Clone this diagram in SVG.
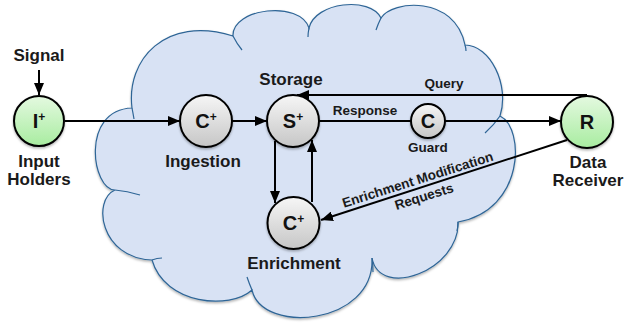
<svg xmlns="http://www.w3.org/2000/svg" width="624" height="326" viewBox="0 0 624 326">
  <defs>
    <linearGradient id="gGray" x1="0" y1="0" x2="0" y2="1">
      <stop offset="0" stop-color="#f6f6f6"/>
      <stop offset="1" stop-color="#c6c6c6"/>
    </linearGradient>
    <linearGradient id="gGreen" x1="0" y1="0" x2="0" y2="1">
      <stop offset="0" stop-color="#e4f9e0"/>
      <stop offset="1" stop-color="#a8eca0"/>
    </linearGradient>
    <filter id="shadow" x="-10%" y="-10%" width="120%" height="125%">
      <feDropShadow dx="0" dy="1.5" stdDeviation="1.2" flood-color="#000" flood-opacity="0.3"/>
    </filter>
    <marker id="arrow" viewBox="0 0 12 10" refX="12" refY="5" markerWidth="12" markerHeight="10" markerUnits="userSpaceOnUse" orient="auto">
      <path d="M0,0 L12,5 L0,10 Z" fill="#000"/>
    </marker>
  </defs>
  <style>
    .cloud { fill: #d8e2f4; stroke: #2e6596; stroke-width: 1.2; }
    .tail { fill: none; stroke: #2e6596; stroke-width: 1.2; }
    .edge { fill: none; stroke: #000; stroke-width: 2; }
    .arr { marker-end: url(#arrow); }
    .node { stroke: #000; stroke-width: 2; }
    .gray { fill: url(#gGray); }
    .green { fill: url(#gGreen); }
    .sym { font-family: "Liberation Sans", Arial, sans-serif; font-weight: bold; font-size: 20px; fill: #111; text-anchor: middle; }
    .sup { font-size: 12px; }
    .lbl { font-family: "Liberation Sans", Arial, sans-serif; font-weight: bold; font-size: 17px; fill: #1a1a1a; text-anchor: middle; }
    .small { font-family: "Liberation Sans", Arial, sans-serif; font-weight: bold; font-size: 13.5px; fill: #1a1a1a; text-anchor: middle; }
  </style>

  <!-- cloud background -->
  <g id="cloud" filter="url(#shadow)">
    <path class="cloud" d="M115,190
      C92,190 80,110 132,108
      C126,60 165,15 233,36
      C232,8 300,0 309,28
      C315,2 370,-4 381,18
      C392,0 455,-5 465,45
      C490,45 510,85 500,116
      C525,128 525,210 458,222
      C460,270 380,300 372,258
      C375,325 262,335 252,290
      C230,310 165,305 152,260
      C100,258 92,200 115,190 Z"/>
    <path class="tail" d="M132,108 Q133,113 134,119"/>
    <path class="tail" d="M233,36 Q237,44 242,50"/>
    <path class="tail" d="M309,28 Q308,33 308,37"/>
    <path class="tail" d="M381,18 Q378,24 376,30"/>
    <path class="tail" d="M465,45 Q466,48 466,51"/>
    <path class="tail" d="M500,116 Q494,125 485,133"/>
    <path class="tail" d="M458,222 Q458,227 457,231"/>
    <path class="tail" d="M372,258 Q373,265 373,272"/>
    <path class="tail" d="M252,290 Q249,283 247,277"/>
    <path class="tail" d="M152,260 Q157,258 162,258"/>
    <path class="tail" d="M115,190 Q127,191 140,195"/>
  </g>

  <!-- connectors -->
  <g id="connectors">
    <line class="edge arr" x1="39" y1="70" x2="39" y2="95"/>
    <line class="edge arr" x1="65" y1="121" x2="180" y2="121"/>
    <line class="edge arr" x1="232" y1="121" x2="267" y2="121"/>
    <line class="edge" x1="319" y1="121" x2="411" y2="121"/>
    <line class="edge arr" x1="445" y1="121" x2="561" y2="121"/>
    <polyline class="edge arr" points="587,95 297,95"/>
    <line class="edge arr" x1="275" y1="141" x2="275" y2="203"/>
    <line class="edge arr" x1="312" y1="202" x2="312" y2="140"/>
    <line class="edge arr" x1="567" y1="140" x2="321" y2="220"/>
    <text class="small" x="365" y="115">Response</text>
    <text class="small" x="444" y="88">Query</text>
    <g transform="translate(419,184) rotate(-17.5)">
      <text class="small" x="0" y="0">Enrichment Modification</text>
      <text class="small" x="1" y="18">Requests</text>
    </g>
  </g>

  <!-- nodes -->
  <g id="input-holders">
    <text class="lbl" x="39" y="61">Signal</text>
    <circle class="node green" cx="39" cy="121" r="25" filter="url(#shadow)"/>
    <text class="sym" x="39" y="128">I<tspan class="sup" dy="-7">+</tspan></text>
    <text class="lbl" x="39" y="167">Input</text>
    <text class="lbl" x="39" y="185">Holders</text>
  </g>

  <g id="ingestion">
    <circle class="node gray" cx="206" cy="121" r="26" filter="url(#shadow)"/>
    <text class="sym" x="206" y="128">C<tspan class="sup" dy="-7">+</tspan></text>
    <text class="lbl" x="203" y="167">Ingestion</text>
  </g>

  <g id="storage">
    <text class="lbl" x="291" y="85">Storage</text>
    <circle class="node gray" cx="293" cy="121" r="26" filter="url(#shadow)"/>
    <text class="sym" x="293" y="128">S<tspan class="sup" dy="-7">+</tspan></text>
  </g>

  <g id="guard">
    <circle class="node gray" cx="428" cy="121" r="17" filter="url(#shadow)"/>
    <text class="sym" x="428" y="128">C</text>
    <text class="small" x="428" y="152">Guard</text>
  </g>

  <g id="data-receiver">
    <circle class="node green" cx="587" cy="122" r="26" filter="url(#shadow)"/>
    <text class="sym" x="587" y="129">R</text>
    <text class="lbl" x="588" y="168">Data</text>
    <text class="lbl" x="588" y="186">Receiver</text>
  </g>

  <g id="enrichment">
    <circle class="node gray" cx="293.5" cy="223" r="26" filter="url(#shadow)"/>
    <text class="sym" x="293.5" y="230">C<tspan class="sup" dy="-7">+</tspan></text>
    <text class="lbl" x="294" y="269">Enrichment</text>
  </g>
</svg>
